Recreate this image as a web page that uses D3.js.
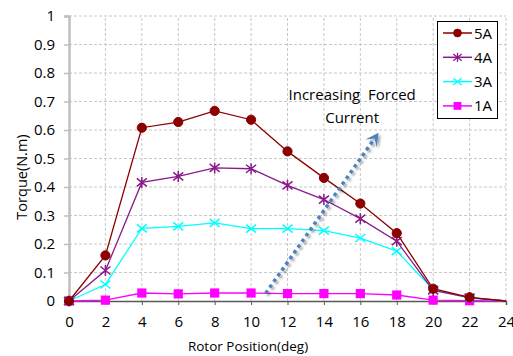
<!DOCTYPE html>
<html><head><meta charset="utf-8">
<script src="https://cdn.jsdelivr.net/npm/d3@7"></script>
<style>
html,body{margin:0;padding:0;background:#fff;}
text{font-family:"Open Sans",sans-serif;fill:#000;}
</style></head>
<body><svg id="c" width="513" height="356"></svg>
<script>
const positions = [0,2,4,6,8,10,12,14,16,18,20,22,24];
const s5A = [0,0.16,0.608,0.628,0.667,0.636,0.525,0.432,0.342,0.238,0.043,0.013,0];
const s4A = [0,0.107,0.416,0.437,0.467,0.464,0.406,0.356,0.289,0.21,0.037,0.012,0];
const s3A = [0,0.058,0.255,0.262,0.274,0.254,0.254,0.247,0.221,0.175,0.04,0.01,0];
const s1A = [0,0.003,0.028,0.025,0.028,0.028,0.026,0.026,0.026,0.021,0.003,0.001,0];
const seriesNames = ["5A","4A","3A","1A"];
const xTicks = [0,2,4,6,8,10,12,14,16,18,20,22,24];
const yTicks = [0,0.1,0.2,0.3,0.4,0.5,0.6,0.7,0.8,0.9,1];
const arrowFrom = [10.8,0.027];
const arrowTo = [17,0.59];

const series = [
 {name:seriesNames[0], vals:s5A, color:"#8B0000", marker:"circle"},
 {name:seriesNames[1], vals:s4A, color:"#8A1A8A", marker:"star"},
 {name:seriesNames[2], vals:s3A, color:"#00FFFF", marker:"x"},
 {name:seriesNames[3], vals:s1A, color:"#FF00FF", marker:"square"}
];

const svg = d3.select("#c");
const m = {l:69, r:7, t:16, b:55};
const W = 513, H = 356;
const x = d3.scaleLinear().domain([0,24]).range([m.l, W-m.r]);
const y = d3.scaleLinear().domain([0,1]).range([H-m.b, m.t]);

// grid
const g = svg.append("g");
g.selectAll("line.h").data(yTicks.filter(d=>d>0)).enter().append("line")
 .attr("x1",x(0)).attr("x2",x(24)).attr("y1",d=>y(d)).attr("y2",d=>y(d))
 .attr("stroke","#c8c8c8").attr("stroke-dasharray","3,2").attr("stroke-width",1);
g.selectAll("line.v").data(xTicks.filter(d=>d>0)).enter().append("line")
 .attr("x1",d=>x(d)).attr("x2",d=>x(d)).attr("y1",y(0)).attr("y2",y(1))
 .attr("stroke","#c8c8c8").attr("stroke-dasharray","3,2").attr("stroke-width",1);

// y axis
const ya = svg.append("g").attr("transform",`translate(${x(0)},0)`)
 .call(d3.axisLeft(y).tickValues(yTicks).tickFormat(d=>d3.format("")(+d.toFixed(1))).tickSize(5).tickPadding(9));
ya.select(".domain").attr("stroke","#bfbfbf").attr("stroke-width",2.5);
ya.selectAll(".tick line").attr("stroke","#bfbfbf").attr("stroke-width",1.5);
ya.selectAll("text").attr("font-size",15).attr("font-family","Open Sans");

// x axis
const xa = svg.append("g").attr("transform",`translate(0,${y(0)})`)
 .call(d3.axisBottom(x).tickValues(xTicks).tickSize(4).tickPadding(11));
xa.select(".domain").attr("stroke","#595959").attr("stroke-width",1.5);
xa.selectAll(".tick line").attr("stroke","#595959");
xa.selectAll("text").attr("font-size",15).attr("font-family","Open Sans");

// axis titles
svg.append("text").attr("x",248).attr("y",351).attr("text-anchor","middle")
 .attr("font-size",13.5).text("Rotor Position(deg)");
svg.append("text").attr("transform",`translate(27,177) rotate(-90)`).attr("text-anchor","middle")
 .attr("font-size",14.5).text("Torque(N.m)");

// markers
function drawMarker(sel, type, color){
 if(type==="circle") sel.append("circle").attr("r",4.6).attr("fill",color).attr("stroke",color);
 else if(type==="square") sel.append("rect").attr("x",-4.6).attr("y",-4.6).attr("width",9.2).attr("height",9.2).attr("fill",color);
 else if(type==="x"){
  sel.append("path").attr("d","M-5,-4L5,4M-5,4L5,-4").attr("stroke",color).attr("stroke-width",1.5).attr("fill","none");
 } else if(type==="star"){
  sel.append("path").attr("d","M-5,-4L5,4M-5,4L5,-4M0,-5.5L0,5.5").attr("stroke",color).attr("stroke-width",1.5).attr("fill","none");
 }
}

const line = d3.line().x(d=>x(d[0])).y(d=>y(d[1]));
series.slice().reverse().forEach(s=>{
 const pts = positions.map((p,i)=>[p,s.vals[i]]);
 svg.append("path").attr("d",line(pts)).attr("fill","none").attr("stroke",s.color).attr("stroke-width",1.3);
 pts.filter(p=>p[0]<24).forEach(p=>{
  const mk = svg.append("g").attr("transform",`translate(${x(p[0])},${y(p[1])})`);
  drawMarker(mk, s.marker, s.color);
 });
});

// arrow
const defs = svg.append("defs");
const f = defs.append("filter").attr("id","sh").attr("x","-20%").attr("y","-20%").attr("width","140%").attr("height","140%");
f.append("feDropShadow").attr("dx",2).attr("dy",2).attr("stdDeviation",1).attr("flood-color","#000").attr("flood-opacity",0.35);
const ag = svg.append("g").attr("filter","url(#sh)");
const x1 = x(arrowFrom[0]), y1 = y(arrowFrom[1]), x2 = x(arrowTo[0]), y2 = y(arrowTo[1]);
const ang = Math.atan2(y2-y1, x2-x1);
const back = 10;
const bx = x2 - back*Math.cos(ang), by = y2 - back*Math.sin(ang);
ag.append("line").attr("x1",x1).attr("y1",y1).attr("x2",bx).attr("y2",by)
 .attr("stroke","#4F81BD").attr("stroke-width",3.5).attr("stroke-dasharray","3.5,3.5");
const hl = 13, hw = 7;
const px = -Math.sin(ang), py = Math.cos(ang);
const hbx = x2 - hl*Math.cos(ang), hby = y2 - hl*Math.sin(ang);
const nx = x2 - 7*Math.cos(ang), ny = y2 - 7*Math.sin(ang);
ag.append("path").attr("d",`M${x2},${y2}L${hbx+hw*px},${hby+hw*py}L${nx},${ny}L${hbx-hw*px},${hby-hw*py}Z`)
 .attr("fill","#4F81BD");

// annotation text
svg.append("text").attr("x",x(15.55)).attr("y",y(0.705)).attr("text-anchor","middle").attr("font-size",15)
 .attr("xml:space","preserve").style("white-space","pre").text("Increasing  Forced");
svg.append("text").attr("x",x(15.55)).attr("y",y(0.624)).attr("text-anchor","middle").attr("font-size",15).text("Current");

// legend
const lg = svg.append("g");
lg.append("rect").attr("x",437.5).attr("y",21.5).attr("width",60).attr("height",97).attr("fill","#fff").attr("stroke","#000").attr("stroke-width",1);
series.forEach((s,i)=>{
 const yy = 33 + i*24.3;
 lg.append("line").attr("x1",443).attr("x2",472).attr("y1",yy).attr("y2",yy).attr("stroke",s.color).attr("stroke-width",1.5);
 const mk = lg.append("g").attr("transform",`translate(457.5,${yy}) scale(0.85)`);
 drawMarker(mk, s.marker, s.color);
 lg.append("text").attr("x",474).attr("y",yy+5.5).attr("font-size",15).text(s.name);
});
</script></body></html>
